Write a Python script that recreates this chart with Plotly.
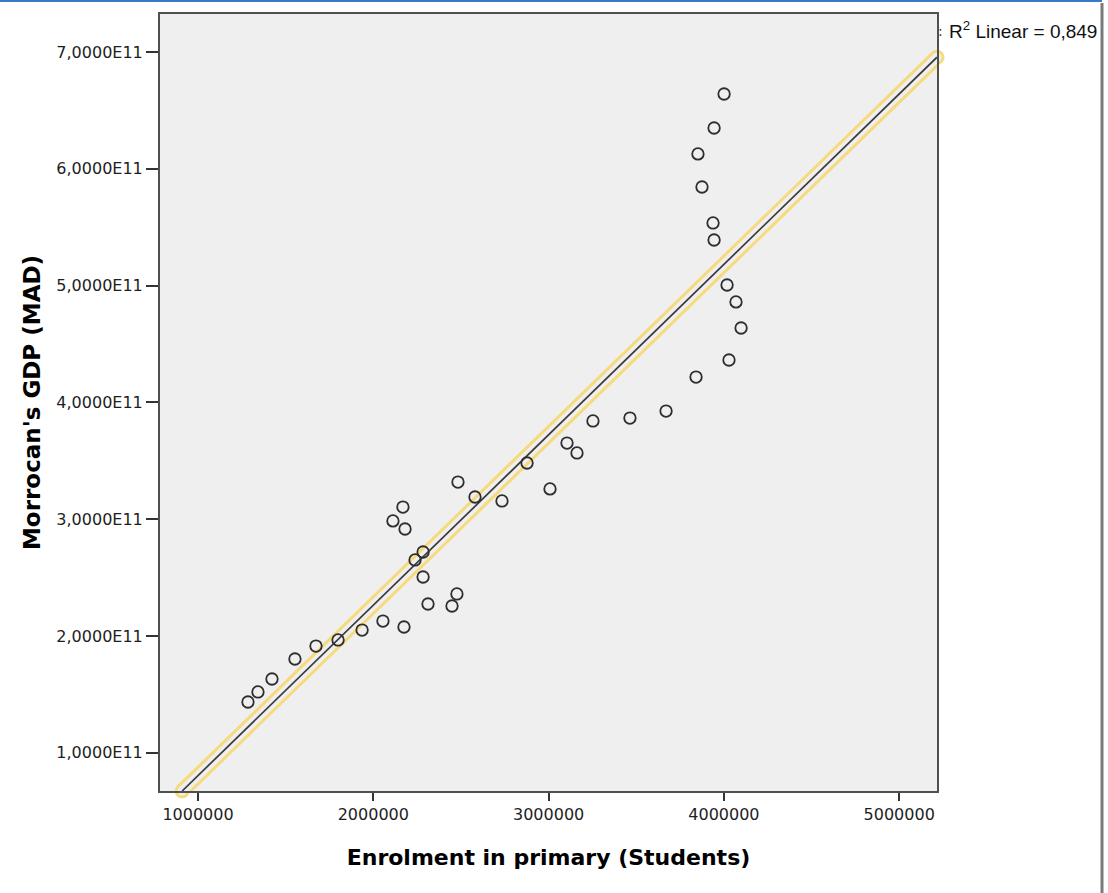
import numpy as np
import plotly.graph_objects as go

# Enrolment in primary (students) and GDP (MAD)
enrolment = [1285000, 1342000, 1422000, 1553000, 1673000, 1799000, 1936000, 2055000, 2175000,
             2112000, 2169000, 2181000, 2238000, 2284000, 2284000, 2312000, 2449000, 2477000,
             2483000, 2580000, 2734000, 2877000, 3008000, 3105000, 3162000, 3253000, 3464000,
             3670000, 3841000, 4029000, 4098000, 4069000, 4018000, 3944000, 3938000, 3875000,
             3852000, 3944000, 4001000]
gdp = [1.435e11, 1.521e11, 1.632e11, 1.803e11, 1.914e11, 1.966e11, 2.051e11, 2.128e11, 2.077e11,
       2.985e11, 3.104e11, 2.916e11, 2.651e11, 2.719e11, 2.505e11, 2.274e11, 2.257e11, 2.360e11,
       3.318e11, 3.190e11, 3.156e11, 3.481e11, 3.259e11, 3.652e11, 3.567e11, 3.841e11, 3.866e11,
       3.926e11, 4.217e11, 4.363e11, 4.637e11, 4.860e11, 5.005e11, 5.390e11, 5.536e11, 5.844e11,
       6.127e11, 6.349e11, 6.640e11]

x_tickvals = [1000000, 2000000, 3000000, 4000000, 5000000]
x_ticktext = ["1000000", "2000000", "3000000", "4000000", "5000000"]
y_tickvals = [1e11, 2e11, 3e11, 4e11, 5e11, 6e11, 7e11]
y_ticktext = ["1,0000E11", "2,0000E11", "3,0000E11", "4,0000E11", "5,0000E11", "6,0000E11", "7,0000E11"]
r2_label = "R<sup>2</sup> Linear = 0,849"

X_RANGE = [783200, 5215600]
Y_RANGE = [0.673e11, 7.325e11]

# Linear fit from the data
slope, intercept = np.polyfit(np.array(enrolment, float), np.array(gdp, float), 1)
x_start = (Y_RANGE[0] - intercept) / slope
x_end = X_RANGE[1]
fit_x = [x_start, x_end]
fit_y = [slope * v + intercept for v in fit_x]

BG = "#EFEFEF"
YEL = "#F5DB7E"

fig = go.Figure()
# selection highlight (yellow capsule)
fig.add_trace(go.Scatter(x=fit_x, y=fit_y, mode="lines+markers", cliponaxis=False,
                         line=dict(color=YEL, width=15),
                         marker=dict(size=15, color=YEL, line=dict(width=0)),
                         hoverinfo="skip", showlegend=False))
fig.add_trace(go.Scatter(x=fit_x, y=fit_y, mode="lines+markers", cliponaxis=False,
                         line=dict(color=BG, width=9),
                         marker=dict(size=9, color=BG, line=dict(width=0)),
                         hoverinfo="skip", showlegend=False))
fig.add_trace(go.Scatter(x=fit_x, y=fit_y, mode="lines", cliponaxis=False,
                         line=dict(color="#3A3A3A", width=1.7),
                         hoverinfo="skip", showlegend=False))
# data points
fig.add_trace(go.Scatter(x=enrolment, y=gdp, mode="markers",
                         marker=dict(symbol="circle-open", size=11.5, color="#2E2E2E",
                                     line=dict(width=1.8, color="#2E2E2E")),
                         showlegend=False))

axis_common = dict(showgrid=False, zeroline=False, showline=True, linecolor="#505050",
                   linewidth=2, mirror=True, ticks="outside", tickcolor="#333333",
                   tickwidth=1.5, tickfont=dict(family="DejaVu Sans", size=16, color="#1E1E1E"))

fig.update_layout(
    width=1108, height=893,
    margin=dict(l=160, r=171, t=14, b=102),
    paper_bgcolor="white", plot_bgcolor=BG,
    xaxis=dict(range=X_RANGE, tickvals=x_tickvals, ticktext=x_ticktext, ticklen=8,
               title=dict(text="Enrolment in primary (Students)", standoff=26,
                          font=dict(family="DejaVu Sans", size=22, color="#000000",
                                    weight="bold")),
               **axis_common),
    yaxis=dict(range=Y_RANGE, tickvals=y_tickvals, ticktext=y_ticktext, ticklen=12,
               title=dict(text="Morrocan's GDP (MAD)", standoff=9,
                          font=dict(family="DejaVu Sans", size=23, color="#000000",
                                    weight="bold")),
               **axis_common),
    showlegend=False,
)

# R² label, to the right of the plot
fig.add_annotation(xref="paper", yref="paper", x=(941 - 160) / 777, y=1 - (31 - 14) / 777,
                   text=":", showarrow=False, xanchor="center", yanchor="middle",
                   font=dict(family="DejaVu Sans", size=14, color="#333333"))
fig.add_annotation(xref="paper", yref="paper", x=(947 - 160) / 777, y=1 - (30 - 14) / 777,
                   text=r2_label, showarrow=False, xanchor="left", yanchor="middle",
                   font=dict(family="Liberation Sans", size=19, color="#111111"))

# window frame pieces: blue top rule and gray right bar
fig.add_shape(type="line", xref="paper", yref="paper",
              x0=-160 / 777, x1=(1102 - 160) / 777, y0=1 + 13 / 777, y1=1 + 13 / 777,
              line=dict(color="#3C78C8", width=2))
fig.add_shape(type="line", xref="paper", yref="paper",
              x0=(1102 - 160) / 777, x1=(1102 - 160) / 777, y0=1 + 11 / 777, y1=-102 / 777,
              line=dict(color="#7A7A7A", width=3))

fig.write_html("out.html")
